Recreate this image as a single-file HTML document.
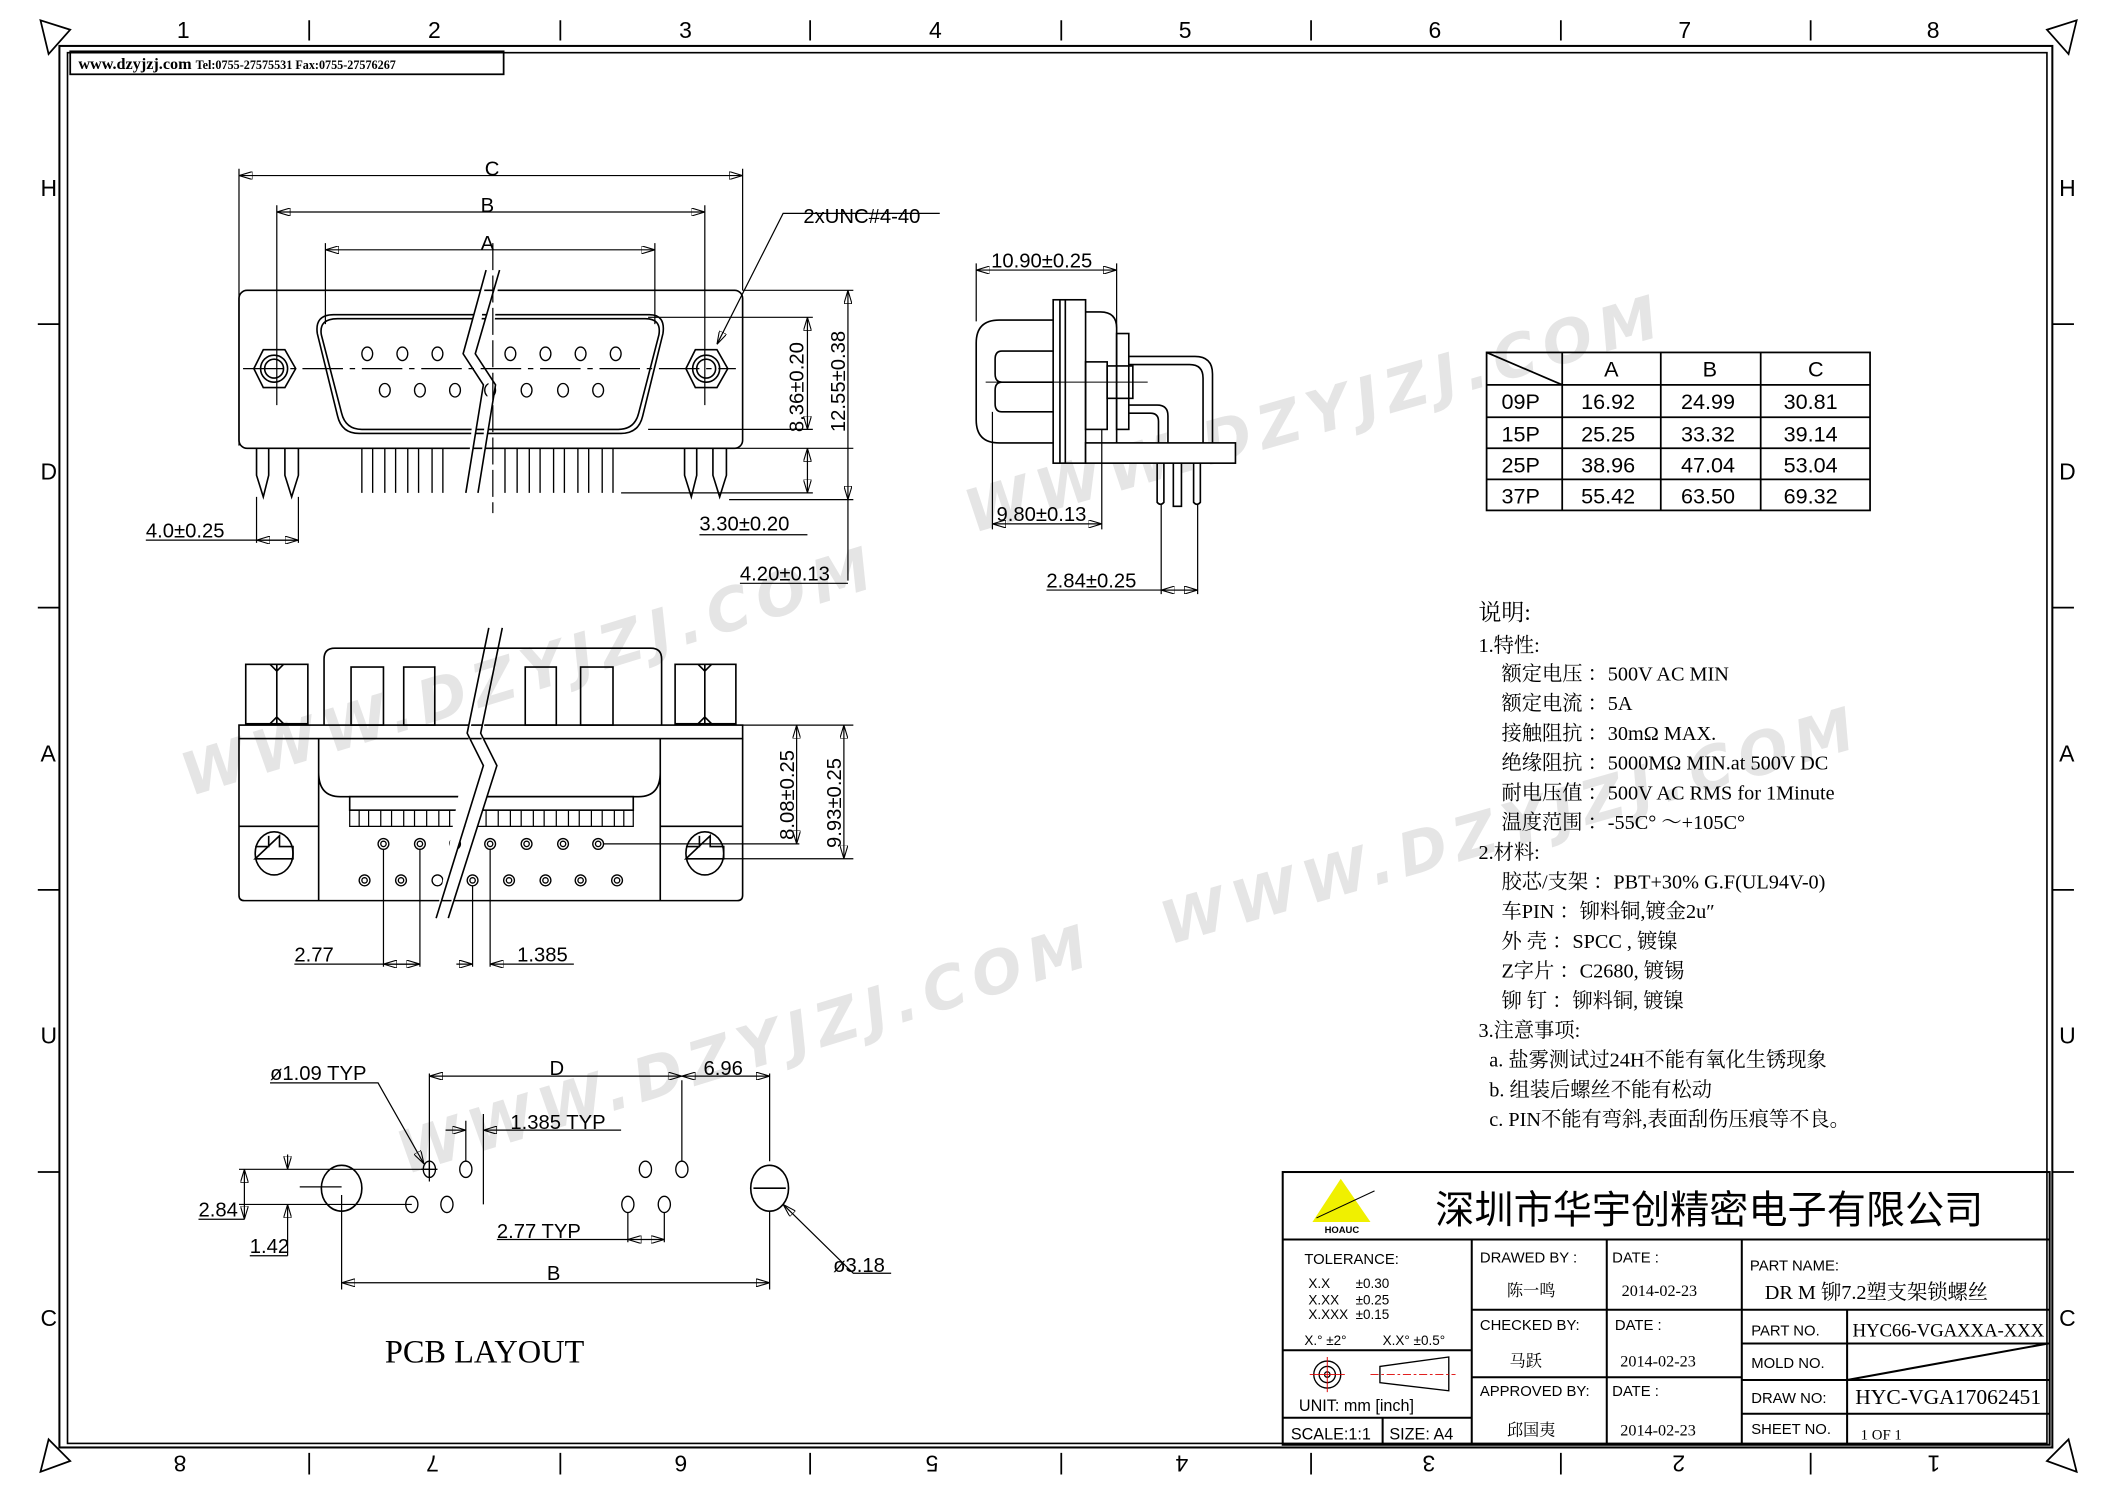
<!DOCTYPE html>
<html><head><meta charset="utf-8"><style>
html,body{margin:0;padding:0;background:#fff}
svg{display:block}
text{font-family:"Liberation Sans","Noto Sans CJK SC",sans-serif;fill:#000}
text.s,.s text{font-family:"Liberation Serif","Noto Serif CJK SC",serif}
text.n,.n text{font-family:"Liberation Sans Narrow","Liberation Sans","Noto Sans CJK SC",sans-serif}
text.wm{font-family:"DejaVu Sans",sans-serif;font-weight:bold;font-style:italic;fill:#d4d4d4;opacity:.6;letter-spacing:6px}
</style></head><body>
<svg width="2105" height="1488" viewBox="0 0 1559 1102" xmlns="http://www.w3.org/2000/svg">
<defs>
<marker id="ar" viewBox="0 0 10 6" refX="10" refY="3" markerWidth="10" markerHeight="6" orient="auto-start-reverse" markerUnits="userSpaceOnUse"><path d="M0,0 L10,3 L0,6 Z" fill="none" stroke="#000" stroke-width="0.8"/></marker>
</defs>
<rect width="1559" height="1102" fill="#fff"/>
<text class="wm" font-size="44" transform="translate(720,395) rotate(-16)">WWW.DZYJZJ.COM</text>
<text class="wm" font-size="44" transform="translate(140,590) rotate(-17)">WWW.DZYJZJ.COM</text>
<text class="wm" font-size="44" transform="translate(865,700) rotate(-16)">WWW.DZYJZJ.COM</text>
<text class="wm" font-size="44" transform="translate(300,870) rotate(-17)">WWW.DZYJZJ.COM</text>

<g fill="none" stroke="#000" stroke-width="1.3">
<rect x="44" y="34" width="1476" height="1038" stroke-width="1.5"/>
<rect x="50" y="39" width="1466" height="1030" stroke-width="1.2"/>
<rect x="52" y="38" width="321" height="17"/>
<path d="M229,15V30M415,15V30M600,15V30M786,15V30M971,15V30M1156,15V30M1341,15V30"/>
<path d="M229,1076V1092M415,1076V1092M600,1076V1092M786,1076V1092M971,1076V1092M1156,1076V1092M1341,1076V1092"/>
<path d="M28,240H44M28,450H44M28,659H44M28,868H44M1520,240H1536M1520,450H1536M1520,659H1536M1520,868H1536"/>
<path d="M30,15 L52,22 L36,40 Z"/><path d="M1538,15 L1516,22 L1532,40 Z"/>
<path d="M30,1090 L52,1082 L36,1066 Z"/><path d="M1538,1090 L1516,1082 L1532,1066 Z"/>
</g>
<g font-size="17">
<text x="131" y="28">1</text><text x="317" y="28">2</text><text x="503" y="28">3</text><text x="688" y="28">4</text><text x="873" y="28">5</text><text x="1058" y="28">6</text><text x="1243" y="28">7</text><text x="1427" y="28">8</text>
<text x="30" y="145">H</text><text x="30" y="355">D</text><text x="30" y="564">A</text><text x="30" y="773">U</text><text x="30" y="982">C</text>
<text x="1525" y="145">H</text><text x="1525" y="355">D</text><text x="1525" y="564">A</text><text x="1525" y="773">U</text><text x="1525" y="982">C</text>
</g>
<g font-size="17">
<text transform="translate(138,1078) rotate(180)">8</text><text transform="translate(325,1078) rotate(180)">7</text><text transform="translate(509,1078) rotate(180)">6</text><text transform="translate(695,1078) rotate(180)">5</text><text transform="translate(880,1078) rotate(180)">4</text><text transform="translate(1063,1078) rotate(180)">3</text><text transform="translate(1248,1078) rotate(180)">2</text><text transform="translate(1437,1078) rotate(180)">1</text>
</g>
<text class="s" x="58" y="51" font-size="12" font-weight="bold">www.dzyjzj.com <tspan font-size="9">Tel:0755-27575531  Fax:0755-27576267</tspan></text>

<!-- FRONT VIEW -->
<g fill="none" stroke="#000" stroke-width="1.2">
<rect x="177" y="215" width="373" height="117" rx="6"/>
<path d="M250,236 H478 Q490,236 488,248 L473,306 Q470,318 458,318 H268 Q256,318 253,306 L238,248 Q236,236 250,236 Z"/>
<path d="M247,233 H481 Q493,233 491,247 L476,308 Q473,321 460,321 H266 Q253,321 250,308 L235,247 Q233,233 247,233 Z"/>
<path d="M188,273 L195,259 H211 L219,273 L211,287 H195 Z"/><circle cx="203" cy="273" r="10"/><circle cx="203" cy="273" r="7"/>
<path d="M508,273 L515,259 H531 L539,273 L531,287 H515 Z"/><circle cx="523" cy="273" r="10"/><circle cx="523" cy="273" r="7"/>
<g stroke-width="1">
<ellipse cx="272" cy="262" rx="4" ry="5"/><ellipse cx="298" cy="262" rx="4" ry="5"/><ellipse cx="324" cy="262" rx="4" ry="5"/><ellipse cx="378" cy="262" rx="4" ry="5"/><ellipse cx="404" cy="262" rx="4" ry="5"/><ellipse cx="430" cy="262" rx="4" ry="5"/><ellipse cx="456" cy="262" rx="4" ry="5"/>
<ellipse cx="285" cy="289" rx="4" ry="5"/><ellipse cx="311" cy="289" rx="4" ry="5"/><ellipse cx="337" cy="289" rx="4" ry="5"/><ellipse cx="363" cy="289" rx="4" ry="5"/><ellipse cx="390" cy="289" rx="4" ry="5"/><ellipse cx="417" cy="289" rx="4" ry="5"/><ellipse cx="443" cy="289" rx="4" ry="5"/>
</g>
<path d="M360,200 L343,262 L358,285 L345,365 M370,200 L352,262 L367,285 L354,365" fill="#fff" stroke="#000"/>
<path d="M268,332 V365 M276,332 V365 M285,332 V365 M293,332 V365 M302,332 V365 M310,332 V365 M320,332 V365 M328,332 V365 M374,332 V365 M383,332 V365 M392,332 V365 M400,332 V365 M410,332 V365 M418,332 V365 M428,332 V365 M436,332 V365 M446,332 V365 M454,332 V365" stroke-width="1"/>
<path d="M190,332 V352 L195,368 L199,352 V332 M211,332 V352 L216,368 L221,352 V332"/>
<path d="M507,332 V352 L512,368 L516,352 V332 M528,332 V352 L533,368 L538,352 V332"/>
<g stroke-width="0.9">
<path d="M177,330 V125 M550,215 V125 M205,300 V152 M522,300 V152 M241,240 V180 M485,240 V180"/>
<path d="M177,130 H550" marker-start="url(#ar)" marker-end="url(#ar)"/>
<path d="M205,157 H522" marker-start="url(#ar)" marker-end="url(#ar)"/>
<path d="M241,185 H485" marker-start="url(#ar)" marker-end="url(#ar)"/>
<path d="M365,180 V380" stroke-dasharray="20,4"/>
<path d="M180,273 H545" stroke-dasharray="30,5,4,5"/>
<path d="M696,158 H580 L531,255" marker-end="url(#ar)"/>
<path d="M480,235 H602 M480,318 H602 M550,215 H632 M460,365 H602 M540,370 H632 M508,332 H632"/>
<path d="M598,235 V318" marker-start="url(#ar)" marker-end="url(#ar)"/>
<path d="M628,215 V370" marker-start="url(#ar)" marker-end="url(#ar)"/>
<path d="M598,332 V365" marker-start="url(#ar)" marker-end="url(#ar)"/>
<path d="M628,370 V430" />
<path d="M518,396 H598 M548,432 H628"/>
<path d="M190,368 V402 M221,368 V402"/>
<path d="M108,400 H221" /><path d="M190,400 H221" marker-start="url(#ar)" marker-end="url(#ar)"/>
</g>
</g>
<g font-size="15" class="n">
<text x="359" y="130">C</text><text x="356" y="157">B</text><text x="356" y="185">A</text>
<text x="595" y="165">2xUNC#4-40</text>
<text transform="translate(595,320) rotate(-90)">8.36±0.20</text>
<text transform="translate(626,320) rotate(-90)">12.55±0.38</text>
<text x="518" y="393">3.30±0.20</text>
<text x="548" y="430">4.20±0.13</text>
<text x="108" y="398">4.0±0.25</text>
</g>

<!-- SIDE VIEW -->
<g fill="none" stroke="#000" stroke-width="1.2">
<path d="M780,237 H740 Q723,237 723,254 V311 Q723,328 740,328 H780"/>
<path d="M780,260 H742 Q737,260 737,266 V277 Q737,283 742,283 H780 M780,305 H742 Q737,305 737,299 V289 Q737,283 742,283"/>
<rect x="780" y="222" width="24" height="121"/>
<path d="M785,222 V343 M789,222 V343"/>
<path d="M804,231 H815 Q827,231 827,243 V328"/>
<rect x="804" y="268" width="16" height="50"/>
<rect x="827" y="247" width="9" height="71"/>
<rect x="820" y="271" width="19" height="24"/>
<path d="M836,264 H885 Q898,264 898,277 V328 M836,270 H881 Q891,270 891,280 V328 M836,300 H857 Q865,300 865,308 V328 M836,306 H852 Q858,306 858,312 V328"/>
<rect x="804" y="328" width="111" height="15" fill="#fff"/>
<path d="M857,343 V372 Q859.5,375 862,372 V343 M869,343 V375 H875 V343 M884,343 V372 Q886.5,375 889,372 V343"/>
<path d="M730,283 H850" stroke-width="0.8"/>
<g stroke-width="0.9">
<path d="M723,238 V195 M827,243 V195 M735,305 V392 M816,318 V392 M860,374 V440 M887,374 V440"/>
<path d="M723,200 H827" marker-start="url(#ar)" marker-end="url(#ar)"/>
<path d="M735,388 H816" marker-start="url(#ar)" marker-end="url(#ar)"/>
<path d="M775,437 H887"/><path d="M860,437 H887" marker-start="url(#ar)" marker-end="url(#ar)"/>
</g>
</g>
<g font-size="15" class="n">
<text x="734" y="198">10.90±0.25</text>
<text x="738" y="386">9.80±0.13</text>
<text x="775" y="435">2.84±0.25</text>
</g>

<!-- TABLE -->
<g fill="none" stroke="#000" stroke-width="1.3">
<rect x="1101" y="261" width="284" height="117"/>
<path d="M1101,285 H1385 M1101,309 H1385 M1101,332 H1385 M1101,355 H1385 M1157,261 V378 M1230,261 V378 M1304,261 V378 M1101,261 L1157,285"/>
</g>
<g font-size="16" class="n">
<text x="1188" y="279">A</text><text x="1261" y="279">B</text><text x="1339" y="279">C</text>
<text x="1112" y="303">09P</text><text x="1171" y="303">16.92</text><text x="1245" y="303">24.99</text><text x="1321" y="303">30.81</text>
<text x="1112" y="327">15P</text><text x="1171" y="327">25.25</text><text x="1245" y="327">33.32</text><text x="1321" y="327">39.14</text>
<text x="1112" y="350">25P</text><text x="1171" y="350">38.96</text><text x="1245" y="350">47.04</text><text x="1321" y="350">53.04</text>
<text x="1112" y="373">37P</text><text x="1171" y="373">55.42</text><text x="1245" y="373">63.50</text><text x="1321" y="373">69.32</text>
</g>

<!-- NOTES -->
<g class="s" font-size="15">
<text x="1095" y="459" font-size="17">说明:</text>
<text x="1095" y="483">1.特性:</text>
<text x="1112" y="504">额定电压  ：500V AC MIN</text>
<text x="1112" y="526">额定电流  ：5A</text>
<text x="1112" y="548">接触阻抗  ：30mΩ  MAX.</text>
<text x="1112" y="570">绝缘阻抗  ：5000MΩ  MIN.at 500V DC</text>
<text x="1112" y="592">耐电压值  ：500V AC RMS for 1Minute</text>
<text x="1112" y="614">温度范围  ：-55C°  ～+105C°</text>
<text x="1095" y="636">2.材料:</text>
<text x="1112" y="658">胶芯/支架  ：PBT+30% G.F(UL94V-0)</text>
<text x="1112" y="680">车PIN  ：铆料铜,镀金2u″</text>
<text x="1112" y="702">外 壳  ：SPCC ,  镀镍</text>
<text x="1112" y="724">Z字片  ：C2680,  镀锡</text>
<text x="1112" y="746">铆 钉  ：铆料铜,  镀镍</text>
<text x="1095" y="768">3.注意事项:</text>
<text x="1103" y="790">a.  盐雾测试过24H不能有氧化生锈现象</text>
<text x="1103" y="812">b.  组装后螺丝不能有松动</text>
<text x="1103" y="834">c.  PIN不能有弯斜,表面刮伤压痕等不良。</text>
</g>

<!-- BOTTOM VIEW -->
<g fill="none" stroke="#000" stroke-width="1.2">
<rect x="182" y="492" width="46" height="44"/><path d="M205,492 V536 M200,492 L205,497 L210,492 M200,536 L205,531 L210,536"/>
<rect x="500" y="492" width="45" height="44"/><path d="M522,492 V536 M517,492 L522,497 L527,492 M517,536 L522,531 L527,536"/>
<path d="M240,537 V488 Q240,480 248,480 H482 Q490,480 490,488 V537"/>
<rect x="260" y="494" width="24" height="43"/><rect x="299" y="494" width="23" height="43"/><rect x="389" y="494" width="23" height="43"/><rect x="430" y="494" width="24" height="43"/>
<rect x="177" y="537" width="373" height="10"/>
<path d="M177,547 V663 Q177,667 181,667 H546 Q550,667 550,663 V547"/>
<path d="M236,547 V667 M489,547 V667 M236,572 Q236,590 252,590 H473 Q489,590 489,572"/>
<path d="M177,612 H236 M489,612 H550"/>
<rect x="259" y="590" width="210" height="10"/>
<path d="M259,600 V612 H469 V600 M266,600V612 M273,600V612 M282,600V612 M290,600V612 M299,600V612 M307,600V612 M316,600V612 M325,600V612 M333,600V612 M342,600V612 M360,600V612 M369,600V612 M378,600V612 M386,600V612 M395,600V612 M403,600V612 M412,600V612 M421,600V612 M429,600V612 M438,600V612 M446,600V612 M455,600V612 M462,600V612" stroke-width="0.9"/>
<ellipse cx="203" cy="632" rx="14" ry="16"/><path d="M189,627 H199 V619 M207,619 V627 H217 V636 H189 Z"/>
<ellipse cx="522" cy="632" rx="14" ry="16"/><path d="M508,627 H518 V619 M526,619 V627 H536 V636 H508 Z"/>
<g stroke-width="1">
<circle cx="284" cy="625" r="4"/><circle cx="311" cy="625" r="4"/><circle cx="337" cy="625" r="4"/><circle cx="363" cy="625" r="4"/><circle cx="390" cy="625" r="4"/><circle cx="417" cy="625" r="4"/><circle cx="443" cy="625" r="4"/>
<circle cx="270" cy="652" r="4"/><circle cx="297" cy="652" r="4"/><circle cx="324" cy="652" r="4"/><circle cx="350" cy="652" r="4"/><circle cx="377" cy="652" r="4"/><circle cx="404" cy="652" r="4"/><circle cx="430" cy="652" r="4"/><circle cx="457" cy="652" r="4"/>
<circle cx="284" cy="625" r="2"/><circle cx="311" cy="625" r="2"/><circle cx="363" cy="625" r="2"/><circle cx="390" cy="625" r="2"/><circle cx="417" cy="625" r="2"/><circle cx="443" cy="625" r="2"/>
<circle cx="270" cy="652" r="2"/><circle cx="297" cy="652" r="2"/><circle cx="350" cy="652" r="2"/><circle cx="377" cy="652" r="2"/><circle cx="404" cy="652" r="2"/><circle cx="430" cy="652" r="2"/><circle cx="457" cy="652" r="2"/>
</g>
<path d="M362,465 L346,543 L358,567 L323,680 M372,465 L356,543 L368,567 L332,680" fill="#fff"/>
<g stroke-width="0.9">
<path d="M550,537 H632 M447,625 H592 M536,636 H632"/>
<path d="M590,537 V625" marker-start="url(#ar)" marker-end="url(#ar)"/>
<path d="M625,537 V636" marker-start="url(#ar)" marker-end="url(#ar)"/>
<path d="M284,629 V716 M311,629 V716 M350,656 V716 M363,629 V716"/>
<path d="M218,714 H311"/><path d="M284,714 H311" marker-start="url(#ar)" marker-end="url(#ar)"/>
<path d="M338,714 H350" marker-end="url(#ar)"/><path d="M363,714 H425 M375,714 H363" marker-end="url(#ar)"/>
</g>
</g>
<g font-size="15" class="n">
<text transform="translate(588,622) rotate(-90)">8.08±0.25</text>
<text transform="translate(623,628) rotate(-90)">9.93±0.25</text>
<text x="218" y="712">2.77</text><text x="383" y="712">1.385</text>
</g>

<!-- PCB LAYOUT -->
<g fill="none" stroke="#000" stroke-width="1.2">
<ellipse cx="253" cy="880" rx="15" ry="17"/>
<ellipse cx="570" cy="880" rx="14" ry="17"/><path d="M558,880 H582"/>
<g stroke-width="1">
<ellipse cx="318" cy="866" rx="4.5" ry="6"/><ellipse cx="345" cy="866" rx="4.5" ry="6"/><ellipse cx="478" cy="866" rx="4.5" ry="6"/><ellipse cx="505" cy="866" rx="4.5" ry="6"/>
<ellipse cx="305" cy="892" rx="4.5" ry="6"/><ellipse cx="331" cy="892" rx="4.5" ry="6"/><ellipse cx="465" cy="892" rx="4.5" ry="6"/><ellipse cx="492" cy="892" rx="4.5" ry="6"/>
<path d="M312,866 H324 M318,860 V872"/>
</g>
<g stroke-width="0.9">
<path d="M318,795 V875 M505,800 V860 M570,795 V860 M253,885 V955 M570,897 V955 M345,830 V860 M358,825 V892 M465,898 V920 M492,898 V920"/>
<path d="M318,797 H505" marker-start="url(#ar)" marker-end="url(#ar)"/>
<path d="M505,797 H570" marker-start="url(#ar)" marker-end="url(#ar)"/>
<path d="M253,950 H570" marker-start="url(#ar)" marker-end="url(#ar)"/>
<path d="M330,837 H345" marker-end="url(#ar)"/><path d="M460,837 H358" marker-end="url(#ar)"/>
<path d="M465,918 H492" marker-start="url(#ar)" marker-end="url(#ar)"/><path d="M368,918 H465"/>
<path d="M200,802 H280 L314,862" marker-end="url(#ar)"/>
<path d="M660,943 H632 L580,892" marker-end="url(#ar)"/>
<path d="M177,866 H318 M177,892 H305 M222,879 H253"/>
<path d="M181,866 V903" marker-start="url(#ar)" marker-end="url(#ar)"/>
<path d="M147,903 H181"/>
<path d="M213,855 V866" marker-end="url(#ar)"/><path d="M213,930 V892" marker-end="url(#ar)"/>
<path d="M185,930 H213"/>
</g>
</g>
<g font-size="15" class="n">
<text x="407" y="796">D</text><text x="521" y="796">6.96</text>
<text x="200" y="800">ø1.09 TYP</text>
<text x="378" y="836">1.385 TYP</text>
<text x="147" y="901">2.84</text><text x="185" y="928">1.42</text>
<text x="368" y="917">2.77 TYP</text>
<text x="405" y="948">B</text>
<text x="617" y="942">ø3.18</text>
</g>
<text class="s" x="285" y="1009" font-size="24">PCB LAYOUT</text>

<!-- TITLE BLOCK -->
<g fill="none" stroke="#000" stroke-width="1.5">
<rect x="950" y="868" width="568" height="202"/>
<path d="M950,918 H1518 M1090,918 V1070 M1190,918 V1070 M1290,918 V1070 M1090,970 H1290 M1090,1020 H1290 M950,1000 H1090 M950,1050 H1090 M1024,1050 V1070 M1290,970 H1518 M1290,995 H1518 M1290,1022 H1518 M1290,1047 H1518 M1368,970 V1070 M1368,1022 L1517,995"/>
</g>
<path d="M993,873 L1015,905 H972 Z" fill="#f0f000"/>
<path d="M975,902 L1018,882" stroke="#000" fill="none" stroke-width="0.8"/>
<text x="981" y="913" font-size="7" font-weight="bold">HOAUC</text>
<text x="1063" y="906" font-size="29">深圳市华宇创精密电子有限公司</text>
<g font-size="11" class="n">
<text x="966" y="936">TOLERANCE:</text>
<text x="969" y="954" font-size="10">X.X</text><text x="1004" y="954" font-size="10">±0.30</text>
<text x="969" y="966" font-size="10">X.XX</text><text x="1004" y="966" font-size="10">±0.25</text>
<text x="969" y="977" font-size="10">X.XXX</text><text x="1004" y="977" font-size="10">±0.15</text>
<text x="966" y="996" font-size="10">X.°  ±2°</text><text x="1024" y="996" font-size="10">X.X°  ±0.5°</text>
<text x="962" y="1045" font-size="12">UNIT:  mm  [inch]</text>
<text x="956" y="1066" font-size="12">SCALE:1:1</text><text x="1029" y="1066" font-size="12">SIZE:  A4</text>
<text x="1096" y="935">DRAWED  BY :</text><text x="1194" y="935">DATE  :</text>
<text x="1096" y="985">CHECKED  BY:</text><text x="1196" y="985">DATE  :</text>
<text x="1096" y="1034">APPROVED  BY:</text><text x="1194" y="1034">DATE  :</text>
<text x="1296" y="941">PART  NAME:</text>
<text x="1297" y="989">PART  NO.</text><text x="1297" y="1013">MOLD  NO.</text><text x="1297" y="1039">DRAW  NO:</text><text x="1297" y="1062">SHEET  NO.</text>
</g>
<g class="s" font-size="12">
<text x="1116" y="960">陈一鸣</text><text x="1201" y="960">2014-02-23</text>
<text x="1118" y="1012">马跃</text><text x="1200" y="1012">2014-02-23</text>
<text x="1116" y="1063">邱国夷</text><text x="1200" y="1063">2014-02-23</text>
<text x="1307" y="962" font-size="15">DR M 铆7.2塑支架锁螺丝</text>
<text x="1372" y="990" font-size="14" textLength="142">HYC66-VGAXXA-XXX</text>
<text x="1374" y="1040" font-size="16">HYC-VGA17062451</text>
<text x="1378" y="1066" font-size="11">1 OF 1</text>
</g>
<g fill="none" stroke="#000" stroke-width="1">
<circle cx="983" cy="1018" r="10"/><circle cx="983" cy="1018" r="6"/><circle cx="983" cy="1018" r="2"/>
<path d="M970,1018 H996 M983,1005 V1031" stroke="#d00" stroke-width="0.7"/>
<path d="M1022,1012 L1073,1005 V1030 L1022,1024 Z"/>
<path d="M1015,1018 H1078" stroke="#d00" stroke-width="0.7" stroke-dasharray="6,2,2,2"/>
</g>
</svg>
</body></html>
